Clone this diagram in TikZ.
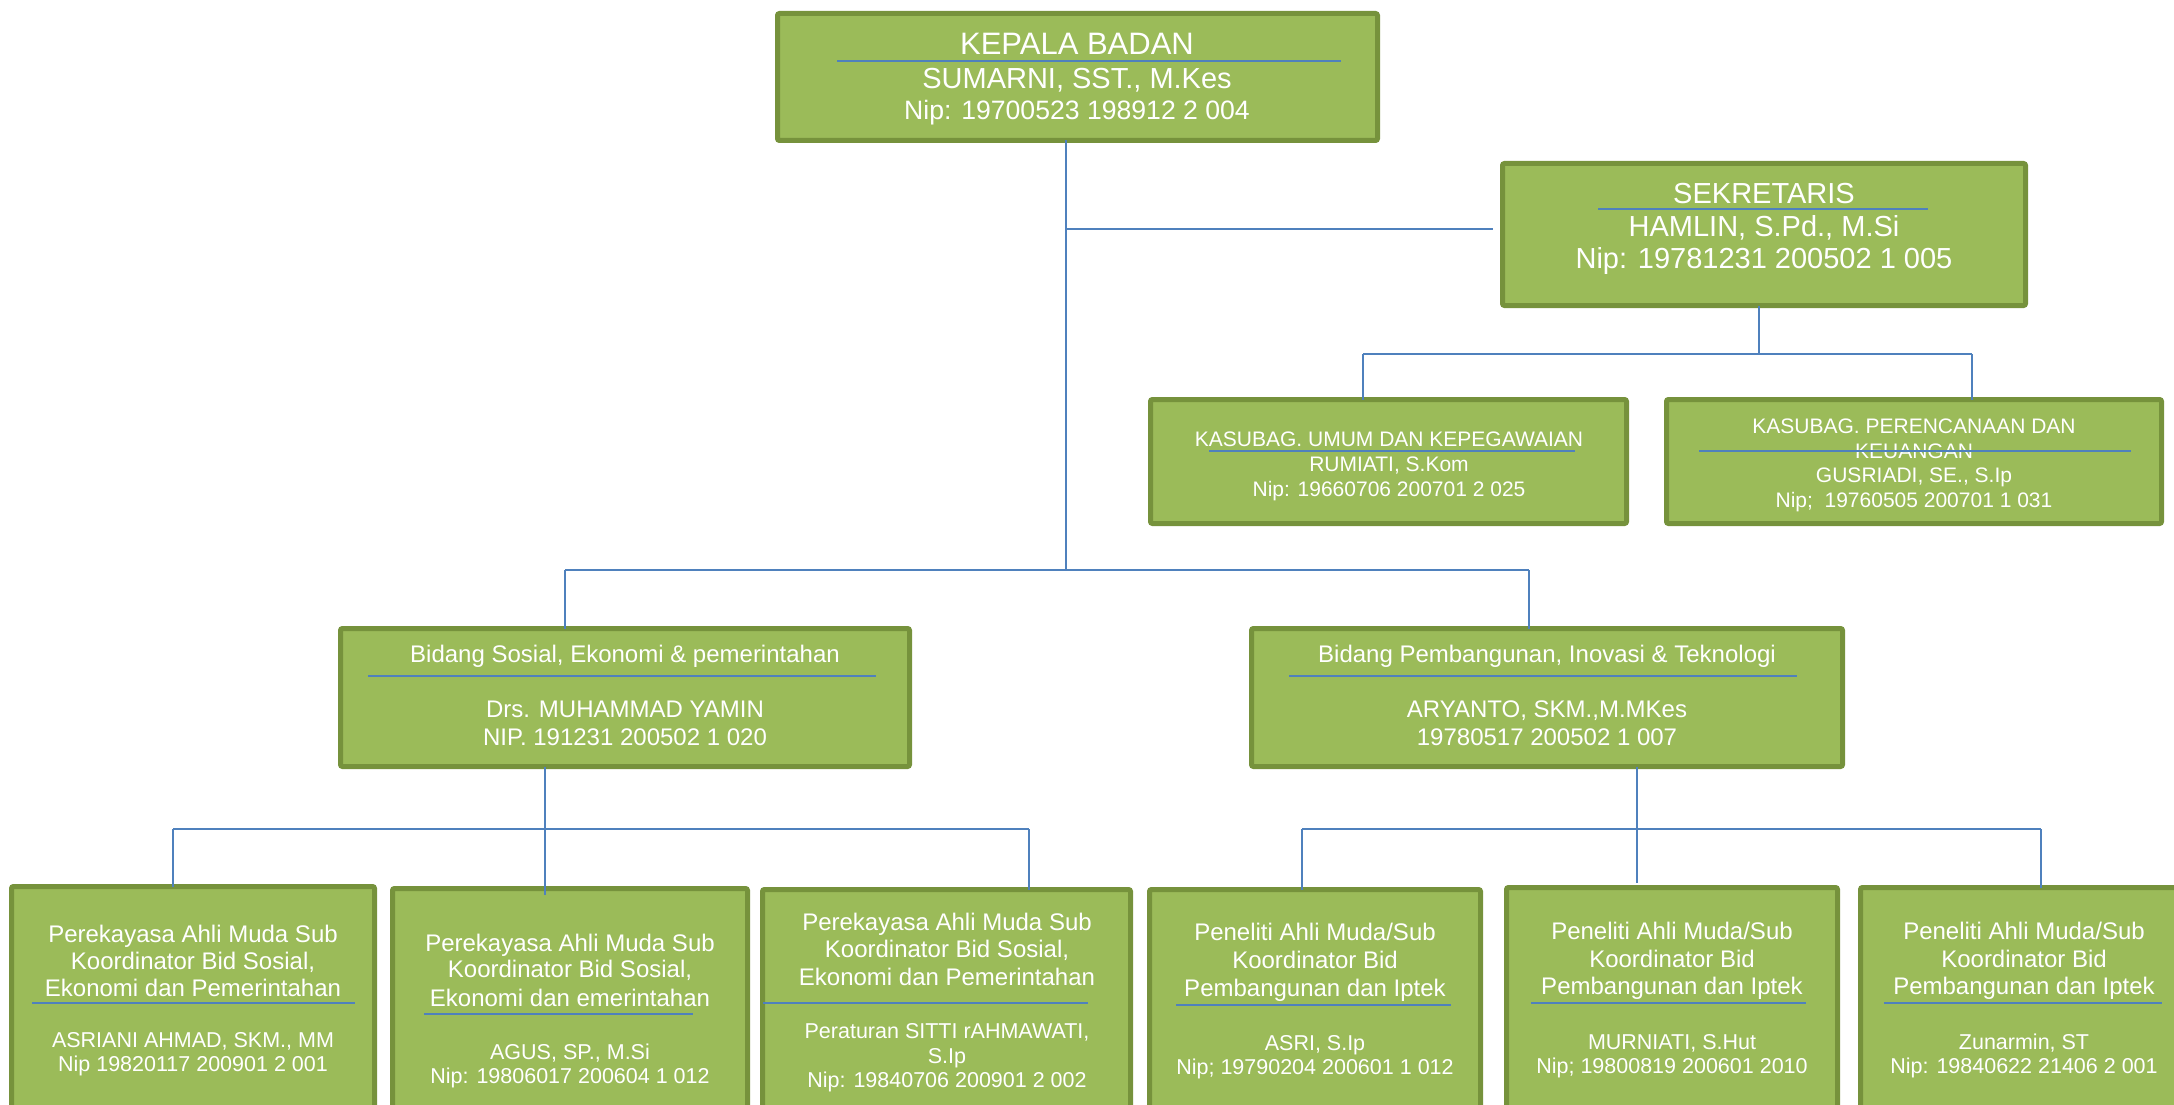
\documentclass[tikz,border=0pt]{standalone}
\usepackage{fontspec}
\setmainfont{Liberation Sans}
\definecolor{boxgreen}{HTML}{9BBB59}
\definecolor{bordergreen}{HTML}{76923C}
\definecolor{lineblue}{HTML}{4F81BD}
\newcommand\fsz[1]{\fontsize{#1pt}{#1pt}\selectfont}
\tikzset{
  box/.style={draw=bordergreen, line width=5pt, fill=boxgreen, rounded corners=2pt, inner sep=0pt, outer sep=0pt},
  lbl/.style={text=white, anchor=base, inner sep=0pt},
  conn/.style={draw=lineblue, line width=2.5pt},
  uline/.style={draw=lineblue, line width=2.5pt},
}
\begin{document}
\begin{tikzpicture}[x=1pt,y=-1pt]
\useasboundingbox (0,0) rectangle (2174,1105);
% boxes
\node[box, minimum width=600pt, minimum height=127pt] (kep) at (1077.5,77) {};
\node[box, minimum width=523pt, minimum height=142pt] (sek) at (1764,234.5) {};
\node[box, minimum width=476pt, minimum height=124pt] (ku) at (1388.5,461.5) {};
\node[box, minimum width=495pt, minimum height=124pt] (kp) at (1914,461.5) {};
\node[box, minimum width=569pt, minimum height=138pt] (bs) at (625,697.5) {};
\node[box, minimum width=591pt, minimum height=138pt] (bp) at (1547,697.5) {};
\node[box, minimum width=363pt, minimum height=251pt] (b1) at (193,1012) {};
\node[box, minimum width=355pt, minimum height=249pt] (b2) at (570,1013) {};
\node[box, minimum width=368pt, minimum height=248pt] (b3) at (946.5,1013.5) {};
\node[box, minimum width=331pt, minimum height=248pt] (b4) at (1315,1013.5) {};
\node[box, minimum width=331pt, minimum height=250pt] (b5) at (1672,1012.5) {};
\node[box, minimum width=327pt, minimum height=250pt] (b6) at (2024,1012.5) {};
% connectors
\coordinate (kj1) at (1066,229);
\coordinate (kj2) at (1066,570);
\draw[conn] (kep.south -| kj1) -- (kj2);
\draw[conn, shorten >=10pt] (kj1) -- (kj1 -| sek.west);
\coordinate (sj) at (1759,354);
\coordinate (sl) at (1363,354);
\coordinate (sr) at (1972,354);
\draw[conn] (sek.south -| sj) -- (sj);
\draw[conn] (sl) -- (sr);
\draw[conn] (sl) -- (sl |- ku.north);
\draw[conn] (sr) -- (sr |- kp.north);
\coordinate (ml) at (565,570);
\coordinate (mr) at (1529,570);
\draw[conn] (ml) -- (mr);
\draw[conn] (ml) -- (ml |- bs.north);
\draw[conn] (mr) -- (mr |- bp.north);
\coordinate (bsj) at (545,829);
\coordinate (bl) at (173,829);
\coordinate (br) at (1029,829);
\draw[conn, shorten >=-6pt] (bs.south -| bsj) -- (bsj |- b2.north);
\draw[conn] (bl) -- (br);
\draw[conn] (bl) -- (bl |- b1.north);
\draw[conn] (br) -- (br |- b3.north);
\coordinate (bpj) at (1637,829);
\coordinate (pl) at (1302,829);
\coordinate (pr) at (2041,829);
\draw[conn, shorten >=5pt] (bp.south -| bpj) -- (bpj |- b5.north);
\draw[conn] (pl) -- (pr);
\draw[conn] (pl) -- (pl |- b4.north);
\draw[conn] (pr) -- (pr |- b6.north);
% texts: kepala
\node[lbl, font=\fsz{31}] (kep1) at (1077,55) {KEPALA BADAN};
\node[lbl, font=\fsz{29}] (kep2) at (1077,89) {SUMARNI, SST., M.Kes};
\node[lbl, font=\fsz{26.6}] (kep3) at (1077,120) {Nip: 19700523 198912 2 004};
% sekretaris
\node[lbl, font=\fsz{29}] (sek1) at (1764,203) {SEKRETARIS};
\node[lbl, font=\fsz{29}] (sek2) at (1764,236) {HAMLIN, S.Pd., M.Si};
\node[lbl, font=\fsz{29}] (sek3) at (1764,268) {Nip: 19781231 200502 1 005};
% kasubag umum
\node[lbl, font=\fsz{21}] (ku1) at (1389,446.5) {KASUBAG. UMUM DAN KEPEGAWAIAN};
\node[lbl, font=\fsz{21}] (ku2) at (1389,471.5) {RUMIATI, S.Kom};
\node[lbl, font=\fsz{21}] (ku3) at (1389,496) {Nip: 19660706 200701 2 025};
% kasubag perencanaan
\node[lbl, font=\fsz{21}] (kp1) at (1914,433) {KASUBAG. PERENCANAAN DAN};
\node[lbl, font=\fsz{21}] (kp2) at (1914,458) {KEUANGAN};
\node[lbl, font=\fsz{21}] (kp3) at (1914,482.5) {GUSRIADI, SE., S.Ip};
\node[lbl, font=\fsz{21}] (kp4) at (1914,507) {Nip;\ \ 19760505 200701 1 031};
% bidang sosial
\node[lbl, font=\fsz{24}] (bs1) at (625,662.5) {Bidang Sosial, Ekonomi \& pemerintahan};
\node[lbl, font=\fsz{24}] (bs2) at (625,717) {Drs. MUHAMMAD YAMIN};
\node[lbl, font=\fsz{24}] (bs3) at (625,745) {NIP. 191231 200502 1 020};
% bidang pembangunan
\node[lbl, font=\fsz{24}] (bp1) at (1547,662.5) {Bidang Pembangunan, Inovasi \& Teknologi};
\node[lbl, font=\fsz{24}] (bp2) at (1547,717) {ARYANTO, SKM.,M.MKes};
\node[lbl, font=\fsz{24}] (bp3) at (1547,745) {19780517 200502 1 007};
% b1
\node[lbl, font=\fsz{24}] (b1a) at (193,942.5) {Perekayasa Ahli Muda Sub};
\node[lbl, font=\fsz{24}] (b1b) at (193,969.5) {Koordinator Bid Sosial,};
\node[lbl, font=\fsz{24}] (b1c) at (193,996) {Ekonomi dan Pemerintahan};
\node[lbl, font=\fsz{21.5}] (b1d) at (193,1047.5) {ASRIANI AHMAD, SKM., MM};
\node[lbl, font=\fsz{21.5}] (b1e) at (193,1071.5) {Nip 19820117 200901 2 001};
% b2
\node[lbl, font=\fsz{24}] (b2a) at (570,951.5) {Perekayasa Ahli Muda Sub};
\node[lbl, font=\fsz{24}] (b2b) at (570,977.5) {Koordinator Bid Sosial,};
\node[lbl, font=\fsz{24}] (b2c) at (570,1006) {Ekonomi dan emerintahan};
\node[lbl, font=\fsz{21.5}] (b2d) at (570,1059) {AGUS, SP., M.Si};
\node[lbl, font=\fsz{21.5}] (b2e) at (570,1083) {Nip: 19806017 200604 1 012};
% b3
\node[lbl, font=\fsz{24}] (b3a) at (947,930) {Perekayasa Ahli Muda Sub};
\node[lbl, font=\fsz{24}] (b3b) at (947,957.5) {Koordinator Bid Sosial,};
\node[lbl, font=\fsz{24}] (b3c) at (947,985) {Ekonomi dan Pemerintahan};
\node[lbl, font=\fsz{21.5}] (b3d) at (947,1038) {Peraturan SITTI rAHMAWATI,};
\node[lbl, font=\fsz{21.5}] (b3e) at (947,1063) {S.Ip};
\node[lbl, font=\fsz{21.5}] (b3f) at (947,1087) {Nip: 19840706 200901 2 002};
% b4
\node[lbl, font=\fsz{24}] (b4a) at (1315,940.5) {Peneliti Ahli Muda/Sub};
\node[lbl, font=\fsz{24}] (b4b) at (1315,968) {Koordinator Bid};
\node[lbl, font=\fsz{24}] (b4c) at (1315,996) {Pembangunan dan Iptek};
\node[lbl, font=\fsz{21.5}] (b4d) at (1315,1050) {ASRI, S.Ip};
\node[lbl, font=\fsz{21.5}] (b4e) at (1315,1074) {Nip; 19790204 200601 1 012};
% b5
\node[lbl, font=\fsz{24}] (b5a) at (1672,939.5) {Peneliti Ahli Muda/Sub};
\node[lbl, font=\fsz{24}] (b5b) at (1672,967) {Koordinator Bid};
\node[lbl, font=\fsz{24}] (b5c) at (1672,994) {Pembangunan dan Iptek};
\node[lbl, font=\fsz{21.5}] (b5d) at (1672,1049) {MURNIATI, S.Hut};
\node[lbl, font=\fsz{21.5}] (b5e) at (1672,1073) {Nip; 19800819 200601 2010};
% b6
\node[lbl, font=\fsz{24}] (b6a) at (2024,939.5) {Peneliti Ahli Muda/Sub};
\node[lbl, font=\fsz{24}] (b6b) at (2024,967) {Koordinator Bid};
\node[lbl, font=\fsz{24}] (b6c) at (2024,994) {Pembangunan dan Iptek};
\node[lbl, font=\fsz{21.5}] (b6d) at (2024,1049) {Zunarmin, ST};
\node[lbl, font=\fsz{21.5}] (b6e) at (2024,1073) {Nip: 19840622 21406 2 001};
% underlines
\draw[uline] (837,61) -- (1341,61);
\draw[uline] (1598,209) -- (1928,209);
\draw[uline] (1209,451) -- (1575,451);
\draw[uline] (1699,451) -- (2131,451);
\draw[uline] (368,676) -- (876,676);
\draw[uline] (1289,676) -- (1797,676);
\draw[uline] (32,1003) -- (355,1003);
\draw[uline] (424,1014) -- (693,1014);
\draw[uline] (763,1003) -- (1088,1003);
\draw[uline] (1176,1005) -- (1451,1005);
\draw[uline] (1531,1003) -- (1806,1003);
\draw[uline] (1884,1003) -- (2162,1003);
\end{tikzpicture}
\end{document}
